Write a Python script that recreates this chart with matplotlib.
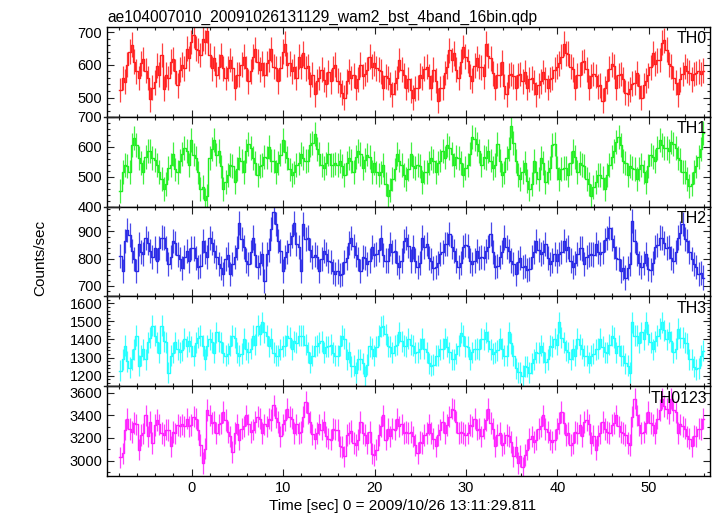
import matplotlib
matplotlib.use("Agg")
import matplotlib.pyplot as plt
import numpy as np
from matplotlib.ticker import MultipleLocator
from matplotlib.lines import Line2D

plt.rcParams['font.family'] = ['Liberation Sans', 'DejaVu Sans']

# light curve: 0.25 s bins starting at t0 (sec from 2009/10/26 13:11:29.811)
t0 = -7.8
dt = 0.25

th0 = [
    523, 560, 548, 600, 640, 662, 610, 580, 560, 605, 618, 582, 560, 495, 530, 547,
    598, 570, 630, 527, 570, 560, 610, 618, 580, 537, 585, 600, 590, 650, 620, 670,
    690, 650, 645, 630, 680, 670, 705, 630, 590, 620, 570, 595, 630, 590, 560, 590,
    615, 590, 530, 570, 570, 600, 625, 590, 550, 580, 625, 648, 610, 585, 605, 570,
    605, 615, 648, 595, 590, 550, 590, 640, 665, 600, 605, 580, 595, 560, 625, 595,
    635, 590, 596, 540, 570, 510, 550, 560, 585, 555, 540, 578, 550, 590, 600, 552,
    540, 515, 500, 550, 580, 560, 568, 530, 556, 600, 565, 572, 585, 625, 595, 605,
    590, 585, 580, 530, 565, 560, 540, 510, 546, 560, 615, 585, 568, 530, 556, 522,
    500, 528, 530, 568, 560, 588, 595, 565, 530, 585, 552, 490, 528, 530, 575, 595,
    645, 615, 635, 585, 560, 610, 655, 625, 612, 565, 552, 598, 620, 595, 592, 565,
    665, 628, 620, 574, 530, 568, 570, 608, 535, 510, 568, 572, 565, 530, 568, 572,
    550, 578, 530, 556, 560, 545, 510, 538, 550, 578, 556, 530, 556, 560, 585, 595,
    605, 625, 665, 635, 634, 595, 586, 530, 568, 570, 608, 612, 586, 530, 566, 572,
    566, 535, 538, 490, 528, 550, 588, 602, 596, 530, 568, 572, 556, 515, 512, 525,
    542, 545, 574, 535, 500, 538, 552, 568, 592, 635, 604, 614, 615, 668, 675, 646,
    602, 596, 560, 546, 510, 556, 572, 596, 582, 576, 554, 572, 575, 580, 572, 582,
]

th1 = [
    452, 515, 540, 536, 515, 606, 628, 606, 562, 546, 515, 566, 586, 586, 562, 556,
    540, 516, 492, 458, 474, 528, 540, 575, 524, 516, 553, 575, 597, 586, 538, 621,
    574, 563, 514, 458, 464, 423, 434, 563, 594, 621, 574, 586, 534, 458, 481, 506,
    539, 536, 481, 526, 563, 551, 516, 586, 609, 596, 563, 546, 504, 536, 539, 566,
    564, 598, 554, 551, 516, 546, 574, 621, 584, 563, 524, 505, 514, 540, 544, 575,
    563, 551, 554, 606, 614, 644, 594, 575, 539, 528, 544, 575, 539, 540, 544, 540,
    551, 536, 504, 546, 563, 551, 516, 566, 586, 576, 528, 556, 574, 566, 516, 546,
    514, 505, 514, 540, 474, 435, 454, 493, 524, 575, 554, 540, 504, 493, 524, 575,
    534, 528, 539, 536, 481, 516, 516, 546, 563, 551, 516, 546, 554, 586, 564, 606,
    597, 576, 539, 566, 563, 546, 504, 528, 539, 575, 632, 626, 609, 586, 539, 566,
    563, 586, 554, 528, 539, 609, 554, 505, 514, 563, 594, 668, 614, 551, 504, 493,
    516, 546, 484, 458, 474, 551, 514, 493, 563, 546, 481, 516, 528, 606, 609, 528,
    493, 526, 528, 528, 504, 546, 586, 566, 516, 546, 539, 536, 493, 476, 435, 466,
    481, 505, 504, 496, 458, 506, 539, 566, 586, 616, 632, 606, 551, 546, 504, 536,
    528, 526, 493, 526, 539, 516, 481, 536, 574, 566, 551, 596, 621, 606, 597, 596,
    586, 616, 609, 596, 563, 556, 516, 516, 493, 470, 474, 516, 534, 566, 594, 646,
]

th2 = [
    810, 755, 865, 905, 887, 827, 797, 755, 853, 823, 817, 875, 857, 827, 805, 839,
    793, 839, 877, 875, 837, 779, 807, 863, 857, 815, 797, 767, 807, 827, 793, 839,
    837, 803, 769, 773, 865, 823, 805, 875, 857, 827, 807, 779, 767, 743, 797, 815,
    745, 779, 807, 839, 931, 873, 841, 793, 781, 823, 877, 813, 769, 783, 817, 719,
    817, 833, 907, 971, 927, 863, 827, 755, 805, 823, 853, 883, 931, 853, 841, 755,
    925, 873, 877, 833, 805, 815, 807, 755, 797, 827, 817, 791, 787, 753, 745, 753,
    739, 743, 787, 803, 857, 875, 847, 815, 797, 755, 807, 803, 781, 793, 841, 813,
    817, 833, 877, 813, 793, 793, 853, 823, 829, 783, 769, 793, 865, 875, 847, 791,
    841, 793, 769, 783, 877, 843, 853, 803, 793, 767, 769, 783, 817, 823, 853, 853,
    889, 843, 829, 793, 769, 783, 841, 851, 847, 793, 781, 793, 829, 803, 805, 803,
    829, 843, 889, 823, 769, 773, 805, 823, 877, 843, 829, 793, 781, 743, 787, 803,
    769, 773, 757, 763, 805, 823, 865, 833, 817, 823, 853, 803, 781, 793, 817, 791,
    817, 823, 865, 833, 841, 793, 769, 783, 817, 839, 837, 779, 807, 815, 817, 815,
    853, 823, 817, 823, 867, 875, 913, 873, 841, 803, 797, 755, 767, 731, 767, 779,
    937, 863, 817, 783, 769, 783, 817, 763, 757, 783, 841, 851, 877, 875, 857, 839,
    841, 803, 793, 823, 877, 893, 925, 873, 865, 823, 797, 779, 769, 743, 747, 731,
]

th3 = [
    1226, 1290, 1366, 1280, 1245, 1290, 1347, 1420, 1255, 1309, 1347, 1290, 1384, 1410, 1477, 1420,
    1384, 1327, 1477, 1390, 1384, 1216, 1310, 1327, 1384, 1346, 1329, 1340, 1403, 1364, 1390, 1364,
    1310, 1383, 1410, 1420, 1366, 1290, 1366, 1401, 1384, 1327, 1440, 1390, 1384, 1327, 1310, 1320,
    1366, 1420, 1410, 1327, 1310, 1320, 1403, 1346, 1329, 1350, 1421, 1370, 1477, 1430, 1495, 1440,
    1421, 1364, 1403, 1327, 1310, 1310, 1347, 1364, 1366, 1420, 1410, 1346, 1390, 1383, 1421, 1420,
    1421, 1370, 1329, 1272, 1310, 1364, 1366, 1383, 1390, 1327, 1360, 1364, 1370, 1327, 1310, 1310,
    1366, 1420, 1403, 1290, 1330, 1253, 1255, 1216, 1290, 1290, 1270, 1198, 1260, 1364, 1350, 1309,
    1360, 1420, 1470, 1475, 1430, 1364, 1360, 1327, 1366, 1370, 1440, 1390, 1366, 1364, 1403, 1370,
    1366, 1327, 1329, 1350, 1403, 1350, 1329, 1270, 1255, 1260, 1310, 1310, 1347, 1350, 1403, 1360,
    1329, 1290, 1292, 1320, 1366, 1438, 1420, 1364, 1360, 1290, 1329, 1346, 1350, 1346, 1403, 1401,
    1440, 1390, 1347, 1320, 1329, 1340, 1403, 1350, 1310, 1310, 1440, 1380, 1310, 1240, 1218, 1220,
    1199, 1253, 1250, 1216, 1270, 1290, 1330, 1327, 1366, 1330, 1273, 1290, 1366, 1360, 1403, 1370,
    1495, 1410, 1384, 1340, 1329, 1290, 1347, 1310, 1403, 1370, 1350, 1309, 1310, 1272, 1310, 1320,
    1347, 1350, 1403, 1360, 1329, 1327, 1370, 1420, 1410, 1327, 1366, 1310, 1310, 1270, 1255, 1216,
    1495, 1420, 1421, 1383, 1440, 1401, 1495, 1430, 1384, 1346, 1390, 1420, 1460, 1494, 1450, 1401,
    1440, 1390, 1329, 1350, 1458, 1410, 1410, 1383, 1380, 1290, 1292, 1250, 1236, 1240, 1310, 1337,
]

th0123 = [
    3028, 3063, 3272, 3370, 3280, 3253, 3330, 3320, 3096, 3224, 3240, 3399, 3213, 3341, 3154, 3312,
    3359, 3320, 3242, 3224, 3272, 3270, 3125, 3253, 3240, 3312, 3301, 3320, 3301, 3370, 3301, 3312,
    3389, 3370, 3272, 3136, 2979, 3106, 3447, 3399, 3330, 3341, 3242, 3320, 3330, 3429, 3360, 3253,
    3213, 3077, 3242, 3320, 3184, 3282, 3301, 3399, 3320, 3253, 3272, 3340, 3389, 3370, 3242, 3320,
    3301, 3370, 3359, 3487, 3380, 3341, 3213, 3320, 3359, 3458, 3389, 3370, 3242, 3320, 3242, 3253,
    3389, 3517, 3420, 3341, 3230, 3194, 3242, 3320, 3272, 3341, 3213, 3194, 3184, 3282, 3272, 3270,
    3125, 3120, 3037, 3224, 3242, 3260, 3154, 3136, 3184, 3341, 3242, 3224, 3154, 3253, 3060, 3048,
    3096, 3224, 3301, 3399, 3184, 3282, 3213, 3282, 3272, 3370, 3301, 3320, 3242, 3253, 3242, 3253,
    3213, 3136, 3066, 3165, 3154, 3224, 3242, 3320, 3242, 3194, 3125, 3224, 3272, 3340, 3242, 3312,
    3389, 3458, 3447, 3341, 3242, 3253, 3242, 3224, 3242, 3312, 3301, 3370, 3272, 3282, 3213, 3282,
    3359, 3458, 3330, 3282, 3125, 3224, 3242, 3136, 3154, 3224, 3213, 3165, 3037, 3120, 2979, 3040,
    2940, 3050, 3096, 3194, 3213, 3165, 3184, 3282, 3301, 3399, 3280, 3253, 3184, 3165, 3184, 3282,
    3330, 3429, 3330, 3224, 3242, 3136, 3154, 3253, 3242, 3312, 3213, 3341, 3359, 3320, 3154, 3220,
    3096, 3220, 3242, 3341, 3280, 3253, 3242, 3312, 3330, 3399, 3301, 3253, 3242, 3224, 3154, 3136,
    3389, 3546, 3400, 3312, 3242, 3253, 3330, 3429, 3330, 3312, 3242, 3370, 3447, 3546, 3480, 3458,
    3418, 3546, 3447, 3429, 3242, 3320, 3301, 3282, 3213, 3194, 3125, 3220, 3213, 3282, 3280, 3370,
]

bands = ["TH0", "TH1", "TH2", "TH3", "TH0123"]
rates = [th0, th1, th2, th3, th0123]
errs = [38, 40, 44, 58, 95]          # typical 1-sigma error per band
colors = ["#ff2020", "#22ee22", "#2a2ae6", "#22ffff", "#ff22ff"]
ylims = [(441, 716), (400, 700), (662, 990), (1142, 1638), (2863, 3657)]
ymajor = [100, 100, 100, 100, 200]
yminor = [20, 20, 20, 20, 100]

W, H = 717, 516
L, R, T, B = 107, 710, 27, 476
fig = plt.figure(figsize=(W / 100, H / 100), dpi=100)
axs = fig.subplots(5, 1, sharex=True,
                   gridspec_kw=dict(hspace=0, left=L / W, right=R / W,
                                    top=1 - T / H, bottom=1 - B / H))

for i, ax in enumerate(axs):
    y = np.array(rates[i], dtype=float)
    t = t0 + dt * np.arange(len(y))
    ax.errorbar(t, y, yerr=errs[i], fmt='none', ecolor=colors[i],
                elinewidth=0.9, capsize=0, alpha=0.85)
    # histogram-style step line through the bins
    ax.step(np.append(t - dt / 2, t[-1] + dt / 2), np.append(y, y[-1]),
            where='post', color=colors[i], lw=1.0)
    ax.set_ylim(*ylims[i])
    ax.set_xlim(-9.27, 56.7)
    ax.yaxis.set_major_locator(MultipleLocator(ymajor[i]))
    ax.yaxis.set_minor_locator(MultipleLocator(yminor[i]))
    ax.xaxis.set_major_locator(MultipleLocator(10))
    ax.xaxis.set_minor_locator(MultipleLocator(2))
    ax.tick_params(which='both', direction='in', top=True, right=True,
                   labelsize=10.5, width=0.8, color='#222222')
    ax.tick_params(which='major', length=5)
    ax.tick_params(which='minor', length=2.5)
    for s in ax.spines.values():
        s.set_linewidth(1.0)
    ax.text(0.995, 0.95, bands[i], transform=ax.transAxes, ha='right', va='top',
            fontsize=11.5)
    if i < 4:
        ax.tick_params(labelbottom=False)

# long ticks where the panels meet
ph = (B - T) / 5
for k in range(1, 5):
    yb = 1 - (T + k * ph) / H
    fig.add_artist(Line2D([(L - 3) / W, (L + 13) / W], [yb, yb],
                          color='#222222', lw=1.0))

axs[0].set_title("ae104007010_20091026131129_wam2_bst_4band_16bin.qdp",
                 loc='left', fontsize=11.2, pad=4)
fig.text(403 / W, 1 - 506 / H, "Time [sec] 0 = 2009/10/26 13:11:29.811",
         ha='center', va='center', fontsize=11)
fig.text(40 / W, 0.5, "Counts/sec", rotation=90, ha='center', va='center', fontsize=11)

fig.savefig("out.png", dpi=100)
